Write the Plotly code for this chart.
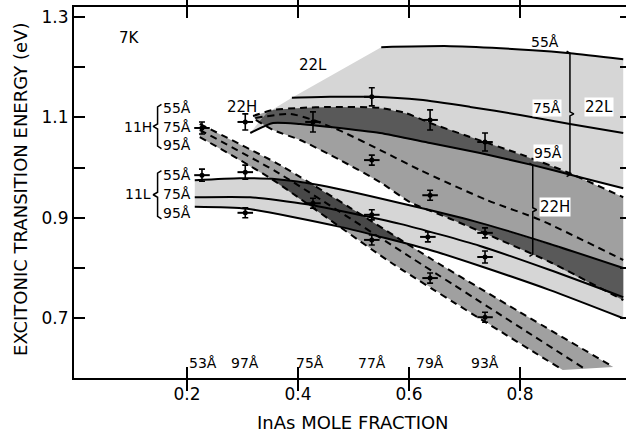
import numpy as np
import plotly.graph_objects as go

# ---------------- data ----------------
# 22L transitions (solid lines)
l22_55_x = [0.550, 0.674, 0.823, 0.890, 0.986]
l22_55_y = [1.240, 1.242, 1.234, 1.228, 1.216]
l22_75_x = [0.389, 0.458, 0.533, 0.620, 0.710, 0.800, 0.890, 0.986]
l22_75_y = [1.139, 1.141, 1.141, 1.135, 1.121, 1.105, 1.087, 1.069]
l22_95_x = [0.314, 0.355, 0.404, 0.458, 0.548, 0.638, 0.728, 0.823, 0.908, 0.986]
l22_95_y = [1.069, 1.089, 1.087, 1.081, 1.069, 1.049, 1.029, 1.005, 0.981, 0.959]
# left edge of the 22L shaded band
l22_edge_x = [0.314, 0.341, 0.389]
l22_edge_y = [1.069, 1.107, 1.139]

# 22H transitions (dashed lines)
h22_55_x = [0.319, 0.355, 0.404, 0.458, 0.548, 0.593, 0.638, 0.710, 0.800, 0.885, 0.986]
h22_55_y = [1.103, 1.115, 1.119, 1.121, 1.119, 1.109, 1.089, 1.061, 1.027, 0.991, 0.941]
h22_75_x = [0.323, 0.386, 0.427, 0.481, 0.548, 0.620, 0.741, 0.836, 0.986]
h22_75_y = [1.099, 1.107, 1.095, 1.071, 1.035, 0.995, 0.935, 0.896, 0.816]
h22_95_x = [0.324, 0.355, 0.404, 0.476, 0.548, 0.602, 0.679, 0.764, 0.854, 0.986]
h22_95_y = [1.095, 1.075, 1.055, 1.015, 0.971, 0.931, 0.896, 0.856, 0.812, 0.736]

# 11L transitions (solid lines)
l11_55_x = [0.214, 0.295, 0.362, 0.440, 0.620, 0.728, 0.854, 0.986]
l11_55_y = [0.975, 0.979, 0.977, 0.965, 0.920, 0.890, 0.848, 0.800]
l11_75_x = [0.214, 0.314, 0.416, 0.584, 0.728, 0.854, 0.986]
l11_75_y = [0.941, 0.941, 0.927, 0.888, 0.844, 0.796, 0.742]
l11_95_x = [0.214, 0.308, 0.476, 0.638, 0.728, 0.854, 0.986]
l11_95_y = [0.922, 0.918, 0.882, 0.836, 0.804, 0.756, 0.700]

# 11H transitions (dashed lines)
h11_55_x = [0.223, 0.368, 0.494, 0.643, 0.800, 0.968]
h11_55_y = [1.087, 1.005, 0.920, 0.816, 0.712, 0.603]
h11_75_x = [0.223, 0.359, 0.602, 0.917]
h11_75_y = [1.075, 0.993, 0.822, 0.599]
h11_95_x = [0.223, 0.350, 0.566, 0.877]
h11_95_y = [1.061, 0.979, 0.812, 0.597]

# measured points
pt_x = [0.227, 0.305, 0.305, 0.305, 0.227, 0.427, 0.427, 0.533, 0.533, 0.533,
        0.533, 0.638, 0.638, 0.634, 0.638, 0.737, 0.737, 0.737, 0.737]
pt_y = [0.985, 0.991, 0.910, 1.091, 1.079, 1.091, 0.929, 1.141, 1.015, 0.906,
        0.856, 1.095, 0.945, 0.862, 0.780, 1.051, 0.870, 0.822, 0.702]
pt_ey = [0.012, 0.014, 0.010, 0.016, 0.012, 0.020, 0.010, 0.018, 0.010, 0.010,
         0.010, 0.020, 0.010, 0.010, 0.010, 0.018, 0.010, 0.012, 0.010]
pt_ex = 0.014

# sample well widths written along the bottom
sample_x = [0.229, 0.305, 0.422, 0.533, 0.638, 0.737]
sample_lbl = ["53Å", "97Å", "75Å", "77Å", "79Å", "93Å"]

y_tickvals = [0.7, 0.8, 0.9, 1.0, 1.1, 1.2, 1.3]
y_ticktext = ["0.7", "", "0.9", "", "1.1", "", "1.3"]
x_tickvals = [0.2, 0.4, 0.6, 0.8]
x_ticktext = ["0.2", "0.4", "0.6", "0.8"]

LIGHT = "#d6d6d6"
MED = "#a0a0a0"
DARK = "#595959"
FONT = "DejaVu Sans, Verdana, sans-serif"

fig = go.Figure()


def band(ux, uy, lx, ly, color):
    xs = list(ux) + list(lx)[::-1] + [ux[0]]
    ys = list(uy) + list(ly)[::-1] + [uy[0]]
    fig.add_trace(go.Scatter(x=xs, y=ys, mode="lines", fill="toself",
                             fillcolor=color, line=dict(width=0),
                             hoverinfo="skip", showlegend=False))


def overlap(b1, b2, color, n=800):
    (ux1, uy1, lx1, ly1), (ux2, uy2, lx2, ly2) = b1, b2
    x0 = max(min(ux1), min(lx1), min(ux2), min(lx2))
    x1 = min(max(ux1), max(lx1), max(ux2), max(lx2))
    g = np.linspace(x0, x1, n)
    up = np.minimum(np.interp(g, ux1, uy1), np.interp(g, ux2, uy2))
    lo = np.maximum(np.interp(g, lx1, ly1), np.interp(g, lx2, ly2))
    m = up > lo
    if m.sum() < 2:
        return
    g, up, lo = g[m], up[m], lo[m]
    xs = list(g) + list(g[::-1])
    ys = list(up) + list(lo[::-1])
    fig.add_trace(go.Scatter(x=xs, y=ys, mode="lines", fill="toself",
                             fillcolor=color, line=dict(width=0),
                             hoverinfo="skip", showlegend=False))


B22L = (l22_edge_x + l22_55_x, l22_edge_y + l22_55_y, l22_95_x, l22_95_y)
B22H = (h22_55_x, h22_55_y, h22_95_x, h22_95_y)
B11L = (l11_55_x, l11_55_y, l11_95_x, l11_95_y)
B11H = (h11_55_x, h11_55_y, h11_95_x, h11_95_y)

band(*B22L, LIGHT)
band(*B22H, MED)
band(*B11L, LIGHT)
band(*B11H, MED)
overlap(B22L, B22H, DARK)
overlap(B22H, B11L, DARK)
overlap(B11H, B11L, "#484848")


def curve(x, y, dash="solid"):
    fig.add_trace(go.Scatter(x=x, y=y, mode="lines",
                             line=dict(color="black", width=2, dash=dash,
                                       shape="spline", smoothing=0.6),
                             hoverinfo="skip", showlegend=False))


for cx, cy in [(l22_55_x, l22_55_y), (l22_75_x, l22_75_y), (l22_95_x, l22_95_y),
               (l11_55_x, l11_55_y), (l11_75_x, l11_75_y), (l11_95_x, l11_95_y)]:
    curve(cx, cy)
for cx, cy in [(h22_55_x, h22_55_y), (h22_75_x, h22_75_y), (h22_95_x, h22_95_y),
               (h11_55_x, h11_55_y), (h11_75_x, h11_75_y), (h11_95_x, h11_95_y)]:
    curve(cx, cy, dash="7px,5px")

# measured points with error bars
fig.add_trace(go.Scatter(
    x=pt_x, y=pt_y, mode="markers",
    marker=dict(color="black", size=5),
    error_x=dict(type="constant", value=pt_ex, color="black", thickness=2, width=0),
    error_y=dict(type="data", array=pt_ey, color="black", thickness=1.6, width=3),
    hoverinfo="skip", showlegend=False))


# brackets built from the curves they span
def rbracket(xb, ytop, ybot, tip=0.007, hook=0.006, k=0.004):
    ym = (ytop + ybot) / 2
    xs = [xb - hook, xb, xb, xb + tip, xb, xb, xb - hook]
    ys = [ytop + k, ytop, ym + k, ym, ym - k, ybot, ybot - k]
    fig.add_trace(go.Scatter(x=xs, y=ys, mode="lines",
                             line=dict(color="black", width=1.5),
                             hoverinfo="skip", showlegend=False))


def lbracket(xb, ytop, ybot, tip=0.008, hook=0.007, k=0.005):
    ym = (ytop + ybot) / 2
    xs = [xb + hook, xb, xb, xb - tip, xb, xb, xb + hook]
    ys = [ytop + k, ytop, ym + k, ym, ym - k, ybot, ybot - k]
    fig.add_trace(go.Scatter(x=xs, y=ys, mode="lines",
                             line=dict(color="black", width=1.5),
                             hoverinfo="skip", showlegend=False))


xb22L = 0.890
rbracket(xb22L, float(np.interp(xb22L, l22_55_x, l22_55_y)),
         float(np.interp(xb22L, l22_95_x, l22_95_y)))
xb22H = 0.823
rbracket(xb22H, float(np.interp(xb22H, l22_95_x, l22_95_y)),
         float(np.interp(xb22H, h22_95_x, h22_95_y)))
lbracket(0.147, 1.121, 1.043)
lbracket(0.147, 0.989, 0.903)

ann = []


def txt(x, y, s, size=14, bg=None, xanchor="center"):
    d = dict(x=x, y=y, text=s, showarrow=False, xref="x", yref="y",
             font=dict(family=FONT, size=size, color="black"),
             xanchor=xanchor, yanchor="middle")
    if bg:
        d["bgcolor"] = bg
        d["borderpad"] = 0
    ann.append(d)


txt(0.097, 1.258, "7K", size=15)
txt(0.427, 1.204, "22L", size=15)
txt(0.299, 1.121, "22H", size=15)
txt(0.845, 1.250, "55Å")
txt(0.849, 1.119, "75Å", bg="white")
txt(0.943, 1.121, "22L", size=15, bg="white")
txt(0.850, 1.029, "95Å", bg="white")
txt(0.863, 0.922, "22H", size=15, bg="white")
txt(0.112, 1.081, "11H")
txt(0.112, 0.947, "11L")
for yy, s in zip([1.119, 1.081, 1.045], ["55Å", "75Å", "95Å"]):
    txt(0.182, yy, s)
for yy, s in zip([0.985, 0.947, 0.910], ["55Å", "75Å", "95Å"]):
    txt(0.182, yy, s)
for sx, s in zip(sample_x, sample_lbl):
    txt(sx, 0.611, s)

# axis titles
ann.append(dict(x=-0.096, y=0.507, xref="paper", yref="paper", showarrow=False,
                text="EXCITONIC TRANSITION ENERGY (eV)", textangle=-90,
                font=dict(family=FONT, size=18, color="black"),
                xanchor="center", yanchor="middle"))
ann.append(dict(x=0.505, y=-0.119, xref="paper", yref="paper", showarrow=False,
                text="InAs MOLE FRACTION",
                font=dict(family=FONT, size=18, color="black"),
                xanchor="center", yanchor="middle"))

fig.update_layout(
    width=626, height=435,
    margin=dict(l=74, r=0, t=7, b=57),
    paper_bgcolor="white", plot_bgcolor="white",
    annotations=ann,
    xaxis=dict(range=[-0.0036, 0.991], tickvals=x_tickvals, ticktext=x_ticktext,
               ticks="inside", ticklen=11, tickwidth=1.5, tickcolor="black",
               showline=True, linecolor="black", linewidth=2, mirror="allticks",
               showgrid=False, zeroline=False, automargin=False,
               tickfont=dict(family=FONT, size=17, color="black")),
    yaxis=dict(range=[0.5809, 1.320], tickvals=y_tickvals, ticktext=y_ticktext,
               ticks="inside", ticklen=11, tickwidth=1.5, tickcolor="black",
               showline=True, linecolor="black", linewidth=2, mirror=False,
               showgrid=False, zeroline=False, automargin=False,
               tickfont=dict(family=FONT, size=17, color="black")),
    yaxis2=dict(range=[0.5809, 1.320], overlaying="y", side="right",
                tickvals=y_tickvals, ticktext=[""] * len(y_tickvals),
                ticks="inside", ticklen=6, tickwidth=1.5, tickcolor="black",
                showline=False, showgrid=False, zeroline=False, automargin=False),
)
fig.add_trace(go.Scatter(x=[0.5], y=[1.0], yaxis="y2", mode="markers",
                         marker=dict(opacity=0), hoverinfo="skip", showlegend=False))

fig.write_html("out.html", config={"displayModeBar": False},
               post_script="document.body.style.margin='0px';document.body.style.overflow='hidden';")
